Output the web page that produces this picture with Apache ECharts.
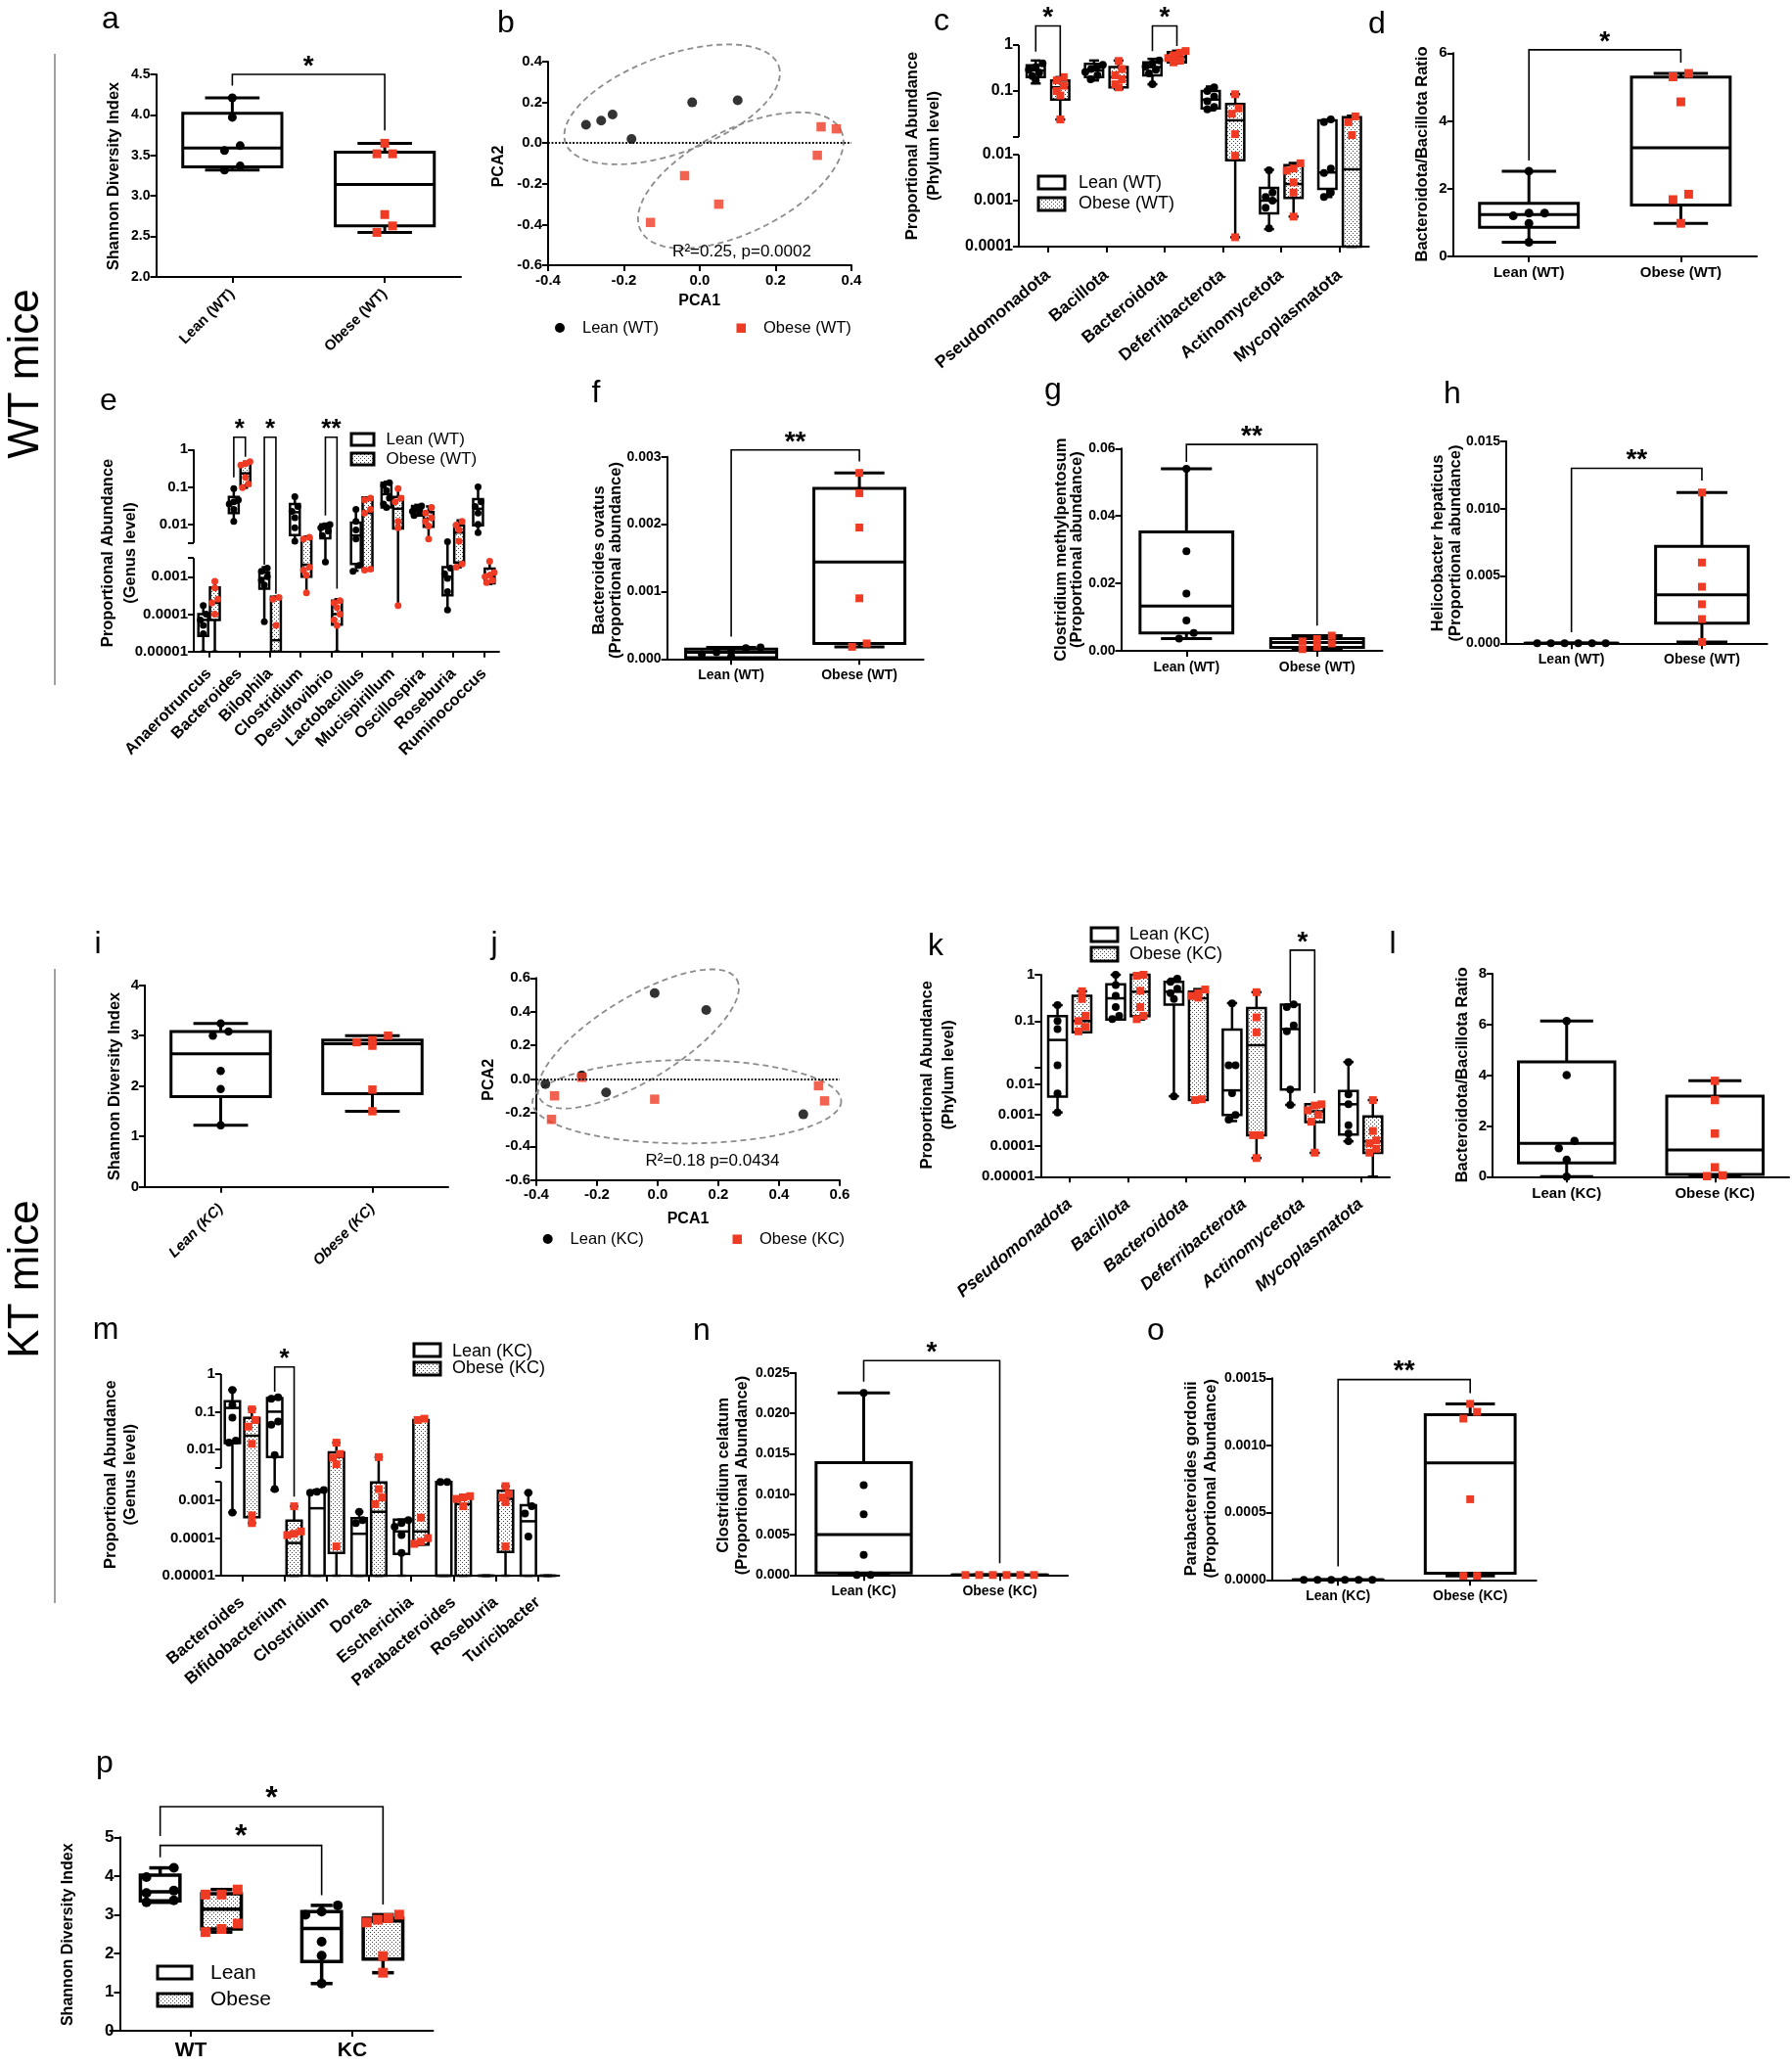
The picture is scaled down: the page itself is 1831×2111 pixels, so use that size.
<!DOCTYPE html>
<html>
<head>
<meta charset="utf-8">
<title>Gut microbiome panels</title>
<script src="https://cdn.jsdelivr.net/npm/echarts@6/dist/echarts.min.js"></script>
<style>
html,body{margin:0;padding:0;background:#fff;}
#chart{width:1831px;height:2111px;}
</style>
</head>
<body>
<div id="chart"></div>
<script>
// ================= DATA =================
const wtGroups = ['Lean (WT)', 'Obese (WT)'];
const kcGroups = ['Lean (KC)', 'Obese (KC)'];
const pGroups = ['WT', 'KC'];
const phylumCats = ['Pseudomonadota', 'Bacillota', 'Bacteroidota', 'Deferribacterota', 'Actinomycetota', 'Mycoplasmatota'];
const eGenusCats = ['Anaerotruncus', 'Bacteroides', 'Bilophila', 'Clostridium', 'Desulfovibrio', 'Lactobacillus', 'Mucispirillum', 'Oscillospira', 'Roseburia', 'Ruminococcus'];
const mGenusCats = ['Bacteroides', 'Bifidobacterium', 'Clostridium', 'Dorea', 'Escherichia', 'Parabacteroides', 'Roseburia', 'Turicibacter'];
const logTickLabels = ['0.00001', '0.0001', '0.001', '0.01', '0.1', '1'];

// box stats are [min, q1, median, q3, max]
// a: Shannon WT
const aLeanPts = [4.21, 3.97, 3.62, 3.56, 3.37, 3.32];
const aObesePts = [3.65, 3.52, 3.52, 2.77, 2.63, 2.55];
const aLeanBox = [3.32, 3.36, 3.59, 4.02, 4.21];
const aObeseBox = [2.55, 2.63, 3.14, 3.54, 3.65];
const aBrackets = [[0, 0, 1, 0, 4.5, 4.36, 3.81, '*']];

// b: PCA WT
const bLean = [[-0.30, 0.09], [-0.26, 0.11], [-0.23, 0.14], [-0.18, 0.02], [-0.02, 0.20], [0.10, 0.21]];
const bObese = [[0.32, 0.08], [0.36, 0.07], [0.31, -0.06], [-0.04, -0.16], [0.05, -0.30], [-0.13, -0.39]];
const bEllipses = [[-0.073, 0.19, 0.208, 0.38, 0.43], [0.108, -0.183, 0.372, 0.063, 0.46]];

// c: phylum WT
const cLeanBox = [[0.146, 0.20, 0.28, 0.36, 0.46], [0.17, 0.20, 0.28, 0.39, 0.46], [0.14, 0.22, 0.33, 0.42, 0.50],
  [0.038, 0.042, 0.065, 0.10, 0.125], [0.00024, 0.00053, 0.001, 0.0019, 0.0047], [0.0012, 0.0018, 0.0041, 0.023, 0.024]];
const cObeseBox = [[0.024, 0.065, 0.12, 0.17, 0.20], [0.11, 0.12, 0.20, 0.33, 0.46], [0.40, 0.42, 0.55, 0.70, 0.75],
  [0.00016, 0.0076, 0.023, 0.052, 0.085], [0.00045, 0.00115, 0.0023, 0.0059, 0.0066], [0, 0, 0.0048, 0.027, 0.029]];
const cLeanPts = [[0.40, 0.33, 0.29, 0.25, 0.21, 0.17], [0.37, 0.33, 0.30, 0.26, 0.22, 0.18], [0.46, 0.40, 0.34, 0.29, 0.24, 0.14],
  [0.12, 0.10, 0.075, 0.06, 0.045, 0.04], [0.0046, 0.0015, 0.0012, 0.001, 0.0007, 0.00025], [0.024, 0.021, 0.005, 0.004, 0.0015, 0.0012]];
const cObesePts = [[0.20, 0.17, 0.13, 0.10, 0.08, 0.024], [0.45, 0.30, 0.22, 0.18, 0.14, 0.12], [0.74, 0.68, 0.60, 0.52, 0.46, 0.42],
  [0.085, 0.042, 0.032, 0.0115, 0.0095, 0.00016], [0.0065, 0.005, 0.0045, 0.0025, 0.0015, 0.00045], [0.028, 0.021, 0.011, 0, 0, 0]];
const cBrackets = [[0, -1, 0, 1, 2.6, 0.72, 0.21, '*'], [2, -1, 2, 1, 2.6, 0.74, 0.95, '*']];

// d: Bacteroidota/Bacillota WT
const dLeanPts = [2.51, 1.27, 1.27, 1.19, 0.97, 0.41];
const dObesePts = [5.4, 5.3, 4.56, 1.83, 1.67, 0.97];
const dLeanBox = [0.41, 0.85, 1.23, 1.56, 2.51];
const dObeseBox = [0.97, 1.51, 3.2, 5.29, 5.4];
const dBrackets = [[0, 0, 1, 0, 6.1, 2.83, 5.72, '*']];

// e: genus WT
const eLeanBox = [[0, 0.000026, 0.00007, 0.0001, 0.00018], [0.0116, 0.02, 0.038, 0.054, 0.095], [0.000063, 0.00048, 0.00092, 0.0013, 0.0018],
  [0.0033, 0.0051, 0.021, 0.035, 0.057], [0.0025, 0.0042, 0.0077, 0.01, 0.0104], [0.00145, 0.0022, 0.005, 0.011, 0.026],
  [0.026, 0.028, 0.064, 0.13, 0.137], [0.017, 0.017, 0.023, 0.031, 0.033], [0.00013, 0.00032, 0.001, 0.0018, 0.0035], [0.006, 0.0094, 0.026, 0.047, 0.105]];
const eObeseBox = [[0, 0.00007, 0.0002, 0.00052, 0.00079], [0.095, 0.11, 0.23, 0.42, 0.47], [0, 0, 0.00002, 0.00029, 0.00029],
  [0.00037, 0.001, 0.0021, 0.0042, 0.0047], [0, 0.000052, 0.0001, 0.00023, 0.00025], [0.0015, 0.0015, 0.02, 0.052, 0.052],
  [0.00017, 0.0077, 0.026, 0.054, 0.095], [0.004, 0.0085, 0.014, 0.021, 0.03], [0.0018, 0.0024, 0.006, 0.0094, 0.0127], [0.00064, 0.00067, 0.001, 0.00165, 0.0027]];
const eLeanPts = [[0.00017, 0.0001, 0.00007, 0.00005, 0.00003, 0], [0.09, 0.045, 0.04, 0.035, 0.025, 0.012], [0.0017, 0.0014, 0.001, 0.0008, 0.0006, 0.000063],
  [0.055, 0.03, 0.022, 0.015, 0.008, 0.0035], [0.0098, 0.009, 0.008, 0.0065, 0.005, 0.0025], [0.025, 0.012, 0.007, 0.004, 0.002, 0.0014],
  [0.13, 0.11, 0.08, 0.05, 0.035, 0.028], [0.031, 0.027, 0.025, 0.022, 0.02, 0.017], [0.0034, 0.0017, 0.0012, 0.0009, 0.0004, 0.00013], [0.1, 0.04, 0.03, 0.02, 0.01, 0.006]];
const eObesePts = [[0.00075, 0.0005, 0.00025, 0.0002, 0.0001, 0], [0.47, 0.42, 0.38, 0.18, 0.12, 0.095], [0.00028, 0.00025, 0.00005, 0, 0, 0],
  [0.0045, 0.004, 0.0018, 0.0015, 0.0011, 0.00037], [0.00023, 0.0002, 0.00015, 0.0001, 0.00007, 0.00005], [0.05, 0.045, 0.025, 0.02, 0.0016, 0.0015],
  [0.09, 0.05, 0.04, 0.012, 0.008, 0.00017], [0.028, 0.02, 0.015, 0.012, 0.009, 0.004], [0.012, 0.0095, 0.007, 0.0035, 0.0022, 0.0018], [0.0026, 0.0013, 0.0011, 0.001, 0.0008, 0.0007]];
const eBrackets = [[1, -1, 1, 1, 2.14, 0.18, 0.64, '*'], [2, -1, 2, 1, 2.14, 0.0021, 0.00035, '*'], [4, -1, 4, 1, 2.14, 0.017, 0.00048, '**']];

// f: Bacteroides ovatus
const fLeanPts = [0.00017, 0.00016, 0.00012, 0.0001, 0.00007, 0.00004];
const fObesePts = [0.00276, 0.00246, 0.00195, 0.0009, 0.00023, 0.00018];
const fLeanBox = [0.00001, 0.00002, 0.0001, 0.000145, 0.00017];
const fObeseBox = [0.00018, 0.00023, 0.00144, 0.00253, 0.00276];
const fBrackets = [[0, 0, 1, 0, 0.0031, 0.00033, 0.00293, '**']];

// g: Clostridium methylpentosum
const gLeanPts = [0.054, 0.0295, 0.017, 0.009, 0.0053, 0.0036];
const gObesePts = [0.0045, 0.0035, 0.0028, 0.0022, 0.0012, 0.0005];
const gLeanBox = [0.0036, 0.0053, 0.0133, 0.0353, 0.054];
const gObeseBox = [0.0005, 0.001, 0.0025, 0.0036, 0.0045];
const gBrackets = [[0, 0, 1, 0, 0.0612, 0.056, 0.0075, '**']];

// h: Helicobacter hepaticus
const hLeanPts = [0, 0, 0, 0, 0, 0];
const hObesePts = [0.0112, 0.006, 0.0042, 0.0029, 0.0018, 0.0001];
const hLeanBox = [0, 0, 0, 0, 0];
const hObeseBox = [0.0001, 0.0015, 0.0036, 0.0072, 0.0112];
const hBrackets = [[0, 0, 1, 0, 0.013, 0.00082, 0.0121, '**']];

// i: Shannon KC
const iLeanPts = [3.24, 3.08, 3.0, 2.3, 1.94, 1.22];
const iObesePts = [3.0, 2.91, 2.87, 2.8, 1.93, 1.5];
const iLeanBox = [1.22, 1.79, 2.64, 3.08, 3.24];
const iObeseBox = [1.5, 1.85, 2.84, 2.91, 3.0];

// j: PCA KC
const jLean = [[-0.37, -0.03], [-0.25, 0.02], [-0.17, -0.08], [-0.01, 0.51], [0.16, 0.41], [0.48, -0.21]];
const jObese = [[-0.34, -0.10], [-0.35, -0.24], [-0.25, 0.01], [-0.01, -0.12], [0.53, -0.04], [0.55, -0.13]];
const jEllipses = [[-0.064, 0.238, 0.26, 0.594, 0.36], [0.096, -0.135, 0.605, -0.131, 0.27]];

// k: phylum KC
const kLeanBox = [[0.0012, 0.0039, 0.039, 0.128, 0.22], [0.108, 0.108, 0.31, 0.62, 1.0], [0.004, 0.225, 0.43, 0.7, 0.82],
  [0.00063, 0.001, 0.0062, 0.065, 0.244], [0.0021, 0.0066, 0.067, 0.225, 0.23], [0.00014, 0.00023, 0.0022, 0.0059, 0.013]];
const kObeseBox = [[0.057, 0.057, 0.1, 0.35, 0.44], [0.108, 0.128, 0.43, 1.0, 1.0], [0.003, 0.003, 0.31, 0.43, 0.49],
  [0.00004, 0.00022, 0.03, 0.19, 0.42], [0.000059, 0.00059, 0.0013, 0.0022, 0.0022], [0, 0.000059, 0.00014, 0.00089, 0.003]];
const kLeanPts = [[0.22, 0.1, 0.067, 0.011, 0.0049, 0.0012], [1.0, 0.6, 0.35, 0.2, 0.13, 0.11], [0.82, 0.7, 0.5, 0.4, 0.3, 0.004],
  [0.24, 0.011, 0.011, 0.005, 0.001, 0.0007], [0.23, 0.2, 0.08, 0.06, 0.0066, 0.0021], [0.013, 0.0046, 0.0022, 0.00046, 0.00025, 0.00014]];
const kObesePts = [[0.44, 0.3, 0.13, 0.1, 0.075, 0.06], [1.0, 0.95, 0.45, 0.2, 0.13, 0.11], [0.48, 0.4, 0.35, 0.32, 0.0032, 0.003],
  [0.42, 0.12, 0.057, 0.00022, 0.00022, 0.00004], [0.0022, 0.002, 0.0014, 0.001, 0.0006, 0.00006], [0.003, 0.0003, 0.00015, 0.00012, 0.00008, 0.00006]];
const kBrackets = [[4, -1, 4, 1, 3.4, 0.26, 0.005, '*']];

// l: Bacteroidota/Bacillota KC
const lLeanPts = [6.14, 4.01, 1.41, 1.12, 0.67, 0];
const lObesePts = [3.78, 3.02, 1.7, 0.37, 0.05, 0.02];
const lLeanBox = [0, 0.54, 1.31, 4.53, 6.14];
const lObeseBox = [0.02, 0.09, 1.05, 3.18, 3.78];

// m: genus KC
const mLeanBox = [[0.00048, 0.0147, 0.126, 0.19, 0.38], [0.0019, 0.0062, 0.1, 0.23, 0.25], [0, 0, 0.00062, 0.0017, 0.0019],
  [0, 0, 0.00013, 0.00034, 0.0005], [0, 0.000038, 0.00015, 0.00031, 0.00031], [0, 0, 0, 0.0031, 0.0031], [0, 0, 0, 0, 0], [0, 0, 0.00028, 0.00075, 0.0016]];
const mObeseBox = [[0.00025, 0.00036, 0.023, 0.069, 0.12], [0, 0, 0.000074, 0.00029, 0.0007], [0, 0.00004, 0.0062, 0.0083, 0.015],
  [0, 0, 0.0005, 0.003, 0.0062], [0.000067, 0.000067, 0.00015, 0.06, 0.065], [0, 0, 0.0008, 0.00125, 0.0014], [0, 0.000043, 0.0011, 0.0018, 0.0024], [0, 0, 0, 0, 0]];
const mLeanPts = [[0.38, 0.15, 0.07, 0.017, 0.015, 0.00048], [0.24, 0.22, 0.055, 0.045, 0.007, 0.002], [0.0019, 0.0017, 0.0016, 0, 0, 0],
  [0.0005, 0.0003, 0.00025, 0, 0, 0], [0.0003, 0.00025, 0.0002, 0.00012, 0.00004, 0], [0.0031, 0.0031, 0, 0, 0, 0], [0, 0, 0, 0, 0, 0], [0.0016, 0.0007, 0.00045, 0.00011, 0, 0]];
const mObesePts = [[0.115, 0.06, 0.04, 0.014, 0.0004, 0.00025], [0.0007, 0.00015, 0.00013, 0.00012, 0, 0], [0.015, 0.0075, 0.006, 0.004, 0.00006, 0],
  [0.0062, 0.002, 0.0012, 0.0008, 0, 0], [0.065, 0.06, 0.00035, 0.0001, 0.00008, 0.00007], [0.0013, 0.0012, 0.0011, 0.0007, 0, 0], [0.0024, 0.0015, 0.0012, 0.0009, 0.00006, 0], [0, 0, 0, 0, 0, 0]];
const mBrackets = [[1, -1, 1, 1, 1.55, 0.34, 0.00126, '*']];

// n: Clostridium celatum
const nLeanPts = [0.0225, 0.0111, 0.0075, 0.0025, 0, 0];
const nObesePts = [0, 0, 0, 0, 0, 0];
const nLeanBox = [0, 0.00024, 0.005, 0.0139, 0.0225];
const nObeseBox = [0, 0, 0, 0, 0];
const nBrackets = [[0, 0, 1, 0, 0.0265, 0.0239, 0.00145, '*']];

// o: Parabacteroides gordonii
const oLeanPts = [0, 0, 0, 0, 0, 0];
const oObesePts = [0.00131, 0.00125, 0.0012, 0.0006, 0.00003, 0.00003];
const oLeanBox = [0, 0, 0, 0, 0];
const oObeseBox = [0.00003, 0.00005, 0.00087, 0.00123, 0.00131];
const oBrackets = [[0, 0, 1, 0, 0.00149, 0.0001, 0.00139, '**']];

// p: Shannon, WT vs KC (same animals as a and i)
const pLeanBox = [aLeanBox, iLeanBox];
const pObeseBox = [aObeseBox, iObeseBox];
const pLeanPts = [aLeanPts, iLeanPts];
const pObesePts = [aObesePts, iObesePts];
const pBrackets = [[0, -1, 1, 1, 5.79, 5.03, 3.26, '*'], [0, -1, 1, -1, 4.79, 4.48, 3.5, '*']];

// ================= STYLE / HELPERS =================
const ARIAL = '"Liberation Sans", Arial, Helvetica, sans-serif';
const RED = '#ef3b24';
const pc = document.createElement('canvas');
pc.width = 4; pc.height = 4;
(function () {
  const g = pc.getContext('2d');
  g.fillStyle = '#fff'; g.fillRect(0, 0, 4, 4);
  g.fillStyle = '#444';
  g.fillRect(0, 0, 1, 1); g.fillRect(2, 2, 1, 1);
})();
const PAT = { image: pc, repeat: 'repeat' };

function makeLog(tmin, tb, tmax, L, G, U) {
  const lowLen = (tb - tmin) * L;
  const max = lowLen + G + (tmax - tb) * U;
  function f(v) {
    if (!(v > 0)) return 0;
    let t = Math.log10(v);
    if (t < tmin) t = tmin;
    return t <= tb + 1e-12 ? (t - tmin) * L : lowLen + G + (t - tb) * U;
  }
  function inv(d) { return d <= lowLen + 1e-9 ? tmin + d / L : tb + (d - lowLen - G) / U; }
  return { tmin, tb, tmax, L, G, U, lowLen, max, f, inv };
}
const Tc = makeLog(-4, -2, 0, 1, 0.385, 1);
const Te = makeLog(-5, -2.5, 0, 1, 0.405, 1);
const Tk = makeLog(-5, -2, 0, 0.668, 0.36, 1);
const Tm = makeLog(-5, -2.5, 0, 1, 0.36, 1);

const pick = (x, i) => Array.isArray(x) ? x[i] : x;
const axLine = { show: true, onZero: false, lineStyle: { color: '#000', width: 2 } };
const axTick = { show: true, length: 6, lineStyle: { color: '#000', width: 2 } };
function fmt(v, dec) { if (Math.abs(v) < 1e-12) v = 0; return v.toFixed(dec); }

function catX(gi, cats, o) {
  o = o || {};
  return {
    gridIndex: gi, type: 'category', data: cats, boundaryGap: true,
    axisLine: axLine, axisTick: Object.assign({ alignWithLabel: true }, axTick), splitLine: { show: false },
    axisLabel: { interval: 0, rotate: o.rotate || 0, margin: o.margin || 8, color: '#000', fontFamily: ARIAL,
      fontWeight: 'bold', fontStyle: o.italic ? 'italic' : 'normal', fontSize: o.fs || 15 }
  };
}
function valX(gi, min, max, interval, dec, fs) {
  return {
    gridIndex: gi, type: 'value', min, max, interval, axisLine: axLine, axisTick: axTick, splitLine: { show: false },
    axisLabel: { margin: 8, color: '#000', fontFamily: ARIAL, fontWeight: 'bold', fontSize: fs || 15, formatter: v => fmt(v, dec) }
  };
}
function linY(gi, min, max, interval, dec, o) {
  o = o || {};
  return {
    gridIndex: gi, type: 'value', min, max, interval, offset: o.offset || 0,
    axisLine: axLine, axisTick: axTick, splitLine: { show: false },
    axisLabel: { margin: 6, color: '#000', fontFamily: ARIAL, fontWeight: 'bold', fontSize: o.fs || 15, formatter: v => fmt(v, dec) }
  };
}
function logY(gi, T, o) {
  const labVals = [];
  for (let t = T.tmin; t <= T.tmax; t++) labVals.push(T.f(Math.pow(10, t)));
  const tickVals = labVals.slice();
  tickVals.push(T.lowLen + T.G);
  if (Math.abs(T.tb - Math.round(T.tb)) > 1e-9) tickVals.push(T.lowLen);
  return {
    gridIndex: gi, type: 'value', min: 0, max: T.max,
    axisLine: { show: !o.broken, onZero: false, lineStyle: { color: '#000', width: 2 } },
    axisTick: { show: true, length: 6, lineStyle: { color: '#000', width: 2 }, customValues: tickVals },
    axisLabel: { customValues: labVals, margin: 6, color: '#000', fontFamily: ARIAL, fontWeight: 'bold', fontSize: o.fs || 15,
      formatter: d => logTickLabels[Math.round(T.inv(d)) + 5] },
    splitLine: { show: false }
  };
}

function boxSeries(gi, boxes, pts, o) {
  const tr = o.tr || (v => v);
  return {
    type: 'custom', xAxisIndex: gi, yAxisIndex: gi, clip: false, z: 3, silent: true,
    data: boxes.map((b, i) => [i, tr(b[2])]),
    renderItem: function (params, api) {
      const i = params.dataIndex, b = boxes[i], P = pts[i];
      const band = api.size([1, 0])[0];
      const cx = api.coord([i, 0])[0] + (o.offset || 0) * band;
      const Y = v => api.coord([i, tr(v)])[1];
      const w = o.width * band, cw = w * 0.55, lw = o.lw || 3;
      const ls = { stroke: '#000', lineWidth: lw, fill: 'none' };
      const yMin = Y(b[0]), yQ1 = Y(b[1]), yMed = Y(b[2]), yQ3 = Y(b[3]), yMax = Y(b[4]);
      const ch = [
        { type: 'line', shape: { x1: cx, y1: yMax, x2: cx, y2: yQ3 }, style: ls },
        { type: 'line', shape: { x1: cx, y1: yQ1, x2: cx, y2: yMin }, style: ls },
        { type: 'line', shape: { x1: cx - cw / 2, y1: yMax, x2: cx + cw / 2, y2: yMax }, style: ls },
        { type: 'line', shape: { x1: cx - cw / 2, y1: yMin, x2: cx + cw / 2, y2: yMin }, style: ls },
        { type: 'rect', shape: { x: cx - w / 2, y: yQ3, width: w, height: Math.max(yQ1 - yQ3, 0.01) },
          style: { fill: pick(o.fill, i) || '#fff', stroke: '#000', lineWidth: lw } },
        { type: 'line', shape: { x1: cx - w / 2, y1: yMed, x2: cx + w / 2, y2: yMed }, style: ls }
      ];
      const s = o.size || 8, color = pick(o.color, i), shape = pick(o.shape, i);
      const py = [];
      P.forEach(v => { if (o.log && !(v > 0)) return; py.push(Y(v)); });
      py.sort((p, q) => p - q);
      const rows = []; let cur = null;
      py.forEach(y => { if (!cur || y - cur[0] > s * 0.95) { cur = [y]; rows.push(cur); } else cur.push(y); });
      const step = o.step || s * 1.8;
      const maxSpread = o.maxSpread != null ? o.maxSpread * band : Infinity;
      rows.forEach(r => {
        const n = r.length;
        const d = n > 1 ? Math.min(step, maxSpread / (n - 1)) : 0;
        r.forEach((y, k) => {
          const x = cx + ((n - 1) / 2 - k) * d;
          ch.push(shape === 'rect'
            ? { type: 'rect', shape: { x: x - s / 2, y: y - s / 2, width: s, height: s }, style: { fill: color } }
            : { type: 'circle', shape: { cx: x, cy: y, r: s / 2 }, style: { fill: color } });
        });
      });
      return { type: 'group', children: ch };
    }
  };
}

function bracketSeries(gi, list, o) {
  o = o || {};
  const tr = o.tr || (v => v), off = o.off || 0;
  return {
    type: 'custom', xAxisIndex: gi, yAxisIndex: gi, clip: false, silent: true, z: 6,
    data: list.map(k => [k[0], tr(k[4])]),
    renderItem: function (params, api) {
      const k = list[params.dataIndex];
      const band = api.size([1, 0])[0];
      const x1 = api.coord([k[0], 0])[0] + k[1] * off * band;
      const x2 = api.coord([k[2], 0])[0] + k[3] * off * band;
      const Y = v => api.coord([k[0], tr(v)])[1];
      const yt = Y(k[4]);
      return {
        type: 'group', children: [
          { type: 'polyline', shape: { points: [[x1, Y(k[5])], [x1, yt], [x2, yt], [x2, Y(k[6])]] },
            style: { stroke: '#000', lineWidth: o.lw || 1.6, fill: 'none' } },
          { type: 'text', style: { text: k[7], x: (x1 + x2) / 2, y: yt - (o.gap || 8), fill: '#000', fontSize: o.fs || 28,
            fontWeight: 'bold', fontFamily: ARIAL, textAlign: 'center', textVerticalAlign: 'middle', align: 'center', verticalAlign: 'middle' } }
        ]
      };
    }
  };
}

function axisBreakSeries(gi, T) {
  return {
    type: 'custom', xAxisIndex: gi, yAxisIndex: gi, clip: false, silent: true, z: 5, data: [[0, 0]],
    renderItem: function (params, api) {
      const x = params.coordSys.x;
      const y = d => api.coord([0, d])[1];
      const ls = { stroke: '#000', lineWidth: 2, fill: 'none' };
      return {
        type: 'group', children: [
          { type: 'line', shape: { x1: x, y1: y(0) + 1, x2: x, y2: y(T.lowLen) }, style: ls },
          { type: 'line', shape: { x1: x, y1: y(T.lowLen + T.G), x2: x, y2: y(T.max) }, style: ls }
        ]
      };
    }
  };
}

function ellipseSeries(gi, list) {
  return {
    type: 'custom', xAxisIndex: gi, yAxisIndex: gi, clip: false, silent: true, z: 2,
    data: list.map(e => [e[0], e[1]]),
    renderItem: function (params, api) {
      const e = list[params.dataIndex];
      const c = api.coord([e[0], e[1]]), m = api.coord([e[2], e[3]]);
      const ax = m[0] - c[0], ay = m[1] - c[1];
      const bx = -ay * e[4], by = ax * e[4];
      const pts = [];
      for (let k = 0; k < 90; k++) {
        const th = k / 90 * 2 * Math.PI;
        pts.push([c[0] + ax * Math.cos(th) + bx * Math.sin(th), c[1] + ay * Math.cos(th) + by * Math.sin(th)]);
      }
      return { type: 'polygon', shape: { points: pts }, style: { fill: 'none', stroke: '#8c8c8c', lineWidth: 1.8, lineDash: [6, 4] } };
    }
  };
}

function scatterSeries(gi, data, symbol, color, zeroLine) {
  const s = { type: 'scatter', xAxisIndex: gi, yAxisIndex: gi, data, symbol, symbolSize: symbol === 'circle' ? 10 : 9.5,
    itemStyle: { color }, z: 4, silent: true };
  if (zeroLine) s.markLine = { silent: true, symbol: 'none', label: { show: false },
    lineStyle: { type: 'dotted', color: '#000', width: 1.8 }, data: [{ yAxis: 0 }] };
  return s;
}

function txt(text, x, y, o) {
  o = o || {};
  const st = { text, x: 0, y: 0, fill: '#000', fontSize: o.fs || 16, fontFamily: ARIAL, fontWeight: o.fw || 'normal',
    fontStyle: o.fst || 'normal', textAlign: o.align || 'center', textVerticalAlign: o.va || 'middle',
    align: o.align || 'center', verticalAlign: o.va || 'middle' };
  if (o.lh) st.lineHeight = o.lh;
  return { type: 'text', x, y, rotation: o.rot || 0, z: 50, silent: true, style: st };
}
function legRect(x, y, w, h, fill) {
  return { type: 'rect', shape: { x, y, width: w, height: h }, style: { fill, stroke: '#000', lineWidth: 3 }, z: 50, silent: true };
}
const R90 = Math.PI / 2;

// ================= LAYOUT =================
const grids = [
  { left: 159.5, top: 76, width: 311.5, height: 207 },     // a 0
  { left: 560, top: 63, width: 310, height: 208 },         // b 1
  { left: 1041, top: 46, width: 357.6, height: 206 },      // c 2
  { left: 1484.6, top: 54.3, width: 310.4, height: 207.4 },// d 3
  { left: 198, top: 459.3, width: 312, height: 206.4 },    // e 4
  { left: 681.6, top: 466.7, width: 262, height: 206.6 },  // f 5
  { left: 1145.5, top: 458.3, width: 267, height: 206.7 }, // g 6
  { left: 1539, top: 451, width: 266.6, height: 206.3 },   // h 7
  { left: 148, top: 1006.7, width: 310, height: 206 },     // i 8
  { left: 548, top: 999.3, width: 310, height: 206.4 },    // j 9
  { left: 1063.3, top: 996, width: 356.7, height: 206.3 }, // k 10
  { left: 1525, top: 995, width: 303, height: 207.3 },     // l 11
  { left: 225.8, top: 1404, width: 345.6, height: 206 },   // m 12
  { left: 813, top: 1402.7, width: 278, height: 206.6 },   // n 13
  { left: 1299.7, top: 1408.3, width: 270, height: 206 },  // o 14
  { left: 112.5, top: 1877.3, width: 330, height: 197.7 }  // p 15
].map(g => Object.assign({ outerBoundsMode: 'none', containLabel: false }, g));

const xAxes = [
  catX(0, wtGroups, { rotate: 45, fs: 15, margin: 15 }),
  valX(1, -0.4, 0.4, 0.2, 1, 15),
  catX(2, phylumCats, { rotate: 40, fs: 17.5, margin: 27 }),
  catX(3, wtGroups, { fs: 15, margin: 10 }),
  catX(4, eGenusCats, { rotate: 45, fs: 16.5, margin: 20 }),
  catX(5, wtGroups, { fs: 14, margin: 10 }),
  catX(6, wtGroups, { fs: 14, margin: 10 }),
  catX(7, wtGroups, { fs: 14, margin: 10 }),
  catX(8, kcGroups, { rotate: 45, fs: 15, italic: true, margin: 20 }),
  valX(9, -0.4, 0.6, 0.2, 1, 15),
  catX(10, phylumCats, { rotate: 40, fs: 17.5, italic: true, margin: 26 }),
  catX(11, kcGroups, { fs: 15, margin: 10 }),
  catX(12, mGenusCats, { rotate: 40, fs: 17, margin: 25 }),
  catX(13, kcGroups, { fs: 14, margin: 10 }),
  catX(14, kcGroups, { fs: 14, margin: 10 }),
  catX(15, pGroups, { fs: 21, margin: 10 })
];
const yAxes = [
  linY(0, 2, 4.5, 0.5, 1, { fs: 14 }),
  linY(1, -0.6, 0.4, 0.2, 1, { fs: 15 }),
  logY(2, Tc, { broken: true, fs: 16 }),
  linY(3, 0, 6, 2, 0, { fs: 15 }),
  logY(4, Te, { broken: true, fs: 15 }),
  linY(5, 0, 0.003, 0.001, 3, { fs: 14 }),
  linY(6, 0, 0.06, 0.02, 2, { fs: 14 }),
  linY(7, 0, 0.015, 0.005, 3, { fs: 14 }),
  linY(8, 0, 4, 1, 0, { fs: 15 }),
  linY(9, -0.6, 0.6, 0.2, 1, { fs: 15 }),
  logY(10, Tk, { broken: false, fs: 15 }),
  linY(11, 0, 8, 2, 0, { fs: 15 }),
  logY(12, Tm, { broken: true, fs: 15 }),
  linY(13, 0, 0.025, 0.005, 3, { fs: 14 }),
  linY(14, 0, 0.0015, 0.0005, 4, { fs: 14 }),
  linY(15, 0, 5, 1, 0, { fs: 17, offset: -10 })
];

const single = (gi, LB, OB, LP, OP, w, extra) => boxSeries(gi, [LB, OB], [LP, OP],
  Object.assign({ width: w, color: ['#000', RED], shape: ['circle', 'rect'], size: 9, step: 16, lw: 3 }, extra || {}));

const series = [
  // a
  single(0, aLeanBox, aObeseBox, aLeanPts, aObesePts, 0.65),
  bracketSeries(0, aBrackets),
  // b
  ellipseSeries(1, bEllipses),
  scatterSeries(1, bLean, 'circle', '#000', true),
  scatterSeries(1, bObese, 'rect', RED, false),
  // c
  boxSeries(2, cLeanBox, cLeanPts, { offset: -0.21, width: 0.31, color: '#000', shape: 'circle', size: 8, step: 7, maxSpread: 0.3, lw: 2.5, log: true, tr: Tc.f }),
  boxSeries(2, cObeseBox, cObesePts, { offset: 0.21, width: 0.31, color: RED, shape: 'rect', fill: PAT, size: 8, step: 7, maxSpread: 0.3, lw: 2.5, log: true, tr: Tc.f }),
  bracketSeries(2, cBrackets, { off: 0.21, tr: Tc.f }),
  axisBreakSeries(2, Tc),
  // d
  single(3, dLeanBox, dObeseBox, dLeanPts, dObesePts, 0.65),
  bracketSeries(3, dBrackets),
  // e
  boxSeries(4, eLeanBox, eLeanPts, { offset: -0.19, width: 0.32, color: '#000', shape: 'circle', size: 7, step: 6, maxSpread: 0.3, lw: 2.5, log: true, tr: Te.f }),
  boxSeries(4, eObeseBox, eObesePts, { offset: 0.19, width: 0.32, color: RED, shape: 'circle', fill: PAT, size: 7, step: 6, maxSpread: 0.3, lw: 2.5, log: true, tr: Te.f }),
  bracketSeries(4, eBrackets, { off: 0.19, tr: Te.f, fs: 26 }),
  axisBreakSeries(4, Te),
  // f g h
  single(5, fLeanBox, fObeseBox, fLeanPts, fObesePts, 0.71, { size: 8, step: 15 }),
  bracketSeries(5, fBrackets),
  single(6, gLeanBox, gObeseBox, gLeanPts, gObesePts, 0.71, { size: 8, step: 15 }),
  bracketSeries(6, gBrackets),
  single(7, hLeanBox, hObeseBox, hLeanPts, hObesePts, 0.71, { size: 8, step: 14 }),
  bracketSeries(7, hBrackets),
  // i
  single(8, iLeanBox, iObeseBox, iLeanPts, iObesePts, 0.655, { size: 8.5 }),
  // j
  ellipseSeries(9, jEllipses),
  scatterSeries(9, jLean, 'circle', '#000', true),
  scatterSeries(9, jObese, 'rect', RED, false),
  // k
  boxSeries(10, kLeanBox, kLeanPts, { offset: -0.21, width: 0.32, color: '#000', shape: 'circle', size: 8, step: 7, maxSpread: 0.3, lw: 2.5, log: true, tr: Tk.f }),
  boxSeries(10, kObeseBox, kObesePts, { offset: 0.21, width: 0.32, color: RED, shape: 'rect', fill: PAT, size: 8, step: 7, maxSpread: 0.3, lw: 2.5, log: true, tr: Tk.f }),
  bracketSeries(10, kBrackets, { off: 0.21, tr: Tk.f }),
  // l
  single(11, lLeanBox, lObeseBox, lLeanPts, lObesePts, 0.65, { size: 8.5 }),
  // m
  boxSeries(12, mLeanBox, mLeanPts, { offset: -0.23, width: 0.36, color: '#000', shape: 'circle', size: 8, step: 7, maxSpread: 0.34, lw: 2.5, log: true, tr: Tm.f }),
  boxSeries(12, mObeseBox, mObesePts, { offset: 0.23, width: 0.36, color: RED, shape: 'rect', fill: PAT, size: 8, step: 7, maxSpread: 0.34, lw: 2.5, log: true, tr: Tm.f }),
  bracketSeries(12, mBrackets, { off: 0.23, tr: Tm.f, fs: 26 }),
  axisBreakSeries(12, Tm),
  // n o
  single(13, nLeanBox, nObeseBox, nLeanPts, nObesePts, 0.7, { size: 8, step: 14 }),
  bracketSeries(13, nBrackets),
  single(14, oLeanBox, oObeseBox, oLeanPts, oObesePts, 0.68, { size: 8, step: 14 }),
  bracketSeries(14, oBrackets),
  // p
  boxSeries(15, pLeanBox, pLeanPts, { offset: -0.19, width: 0.245, color: '#000', shape: 'circle', size: 10, step: 28, maxSpread: 0.2, lw: 3.5 }),
  boxSeries(15, pObeseBox, pObesePts, { offset: 0.19, width: 0.245, color: RED, shape: 'rect', fill: PAT, size: 10, step: 28, maxSpread: 0.2, lw: 3.5 }),
  bracketSeries(15, pBrackets, { off: 0.19, fs: 32 })
];

// ================= TEXT / DECORATION =================
const T16 = { fs: 16.5, fw: 'bold', rot: R90 };
const elems = [
  { type: 'line', shape: { x1: 56, y1: 55, x2: 56, y2: 700 }, style: { stroke: '#a0a0a0', lineWidth: 2 }, silent: true },
  { type: 'line', shape: { x1: 56, y1: 990, x2: 56, y2: 1638 }, style: { stroke: '#a0a0a0', lineWidth: 2 }, silent: true },
  txt('WT mice', 27, 382, { fs: 44, rot: R90 }),
  txt('KT mice', 27, 1307, { fs: 44, rot: R90 }),
  // panel letters
  txt('a', 113, 20, { fs: 32 }), txt('b', 517, 24, { fs: 32 }), txt('c', 962, 22, { fs: 32 }), txt('d', 1407, 25, { fs: 32 }),
  txt('e', 111, 410, { fs: 32 }), txt('f', 609, 402, { fs: 32 }), txt('g', 1076, 399, { fs: 32 }), txt('h', 1484, 403, { fs: 32 }),
  txt('i', 100, 965, { fs: 32 }), txt('j', 505, 965, { fs: 32 }), txt('k', 956, 967, { fs: 32 }), txt('l', 1423, 965, { fs: 32 }),
  txt('m', 108, 1359, { fs: 32 }), txt('n', 717, 1360, { fs: 32 }), txt('o', 1181, 1360, { fs: 32 }), txt('p', 107, 1802, { fs: 32 }),
  // axis titles
  txt('Shannon Diversity Index', 116, 180, T16),
  txt('PCA2', 509.6, 170, { fs: 16, fw: 'bold', rot: R90 }),
  txt('PCA1', 714.7, 308, { fs: 16, fw: 'bold' }),
  txt('Proportional Abundance\n(Phylum level)', 943, 149, Object.assign({ lh: 22 }, T16)),
  txt('Bacteroidota/Bacillota Ratio', 1453, 157.5, T16),
  txt('Proportional Abundance\n(Genus level)', 122.4, 565, Object.assign({ lh: 23 }, T16)),
  txt('Bacteroides ovatus\n(Proportional abundance)', 621, 572.5, Object.assign({ lh: 17 }, T16)),
  txt('Clostridium methylpentosum\n(Proportional abundance)', 1092.5, 561.7, Object.assign({ lh: 16 }, T16)),
  txt('Helicobacter hepaticus\n(Proportional abundance)', 1478.6, 555, Object.assign({ lh: 18 }, T16)),
  txt('Shannon Diversity Index', 117.7, 1110, T16),
  txt('PCA2', 499.4, 1103.3, { fs: 16, fw: 'bold', rot: R90 }),
  txt('PCA1', 703, 1246, { fs: 16, fw: 'bold' }),
  txt('Proportional Abundance\n(Phylum level)', 958.7, 1098.3, Object.assign({ lh: 22 }, T16)),
  txt('Bacteroidota/Bacillota Ratio', 1494, 1098.3, T16),
  txt('Proportional Abundance\n(Genus level)', 123.3, 1506.7, Object.assign({ lh: 20.6 }, T16)),
  txt('Clostridium celatum\n(Proportional Abundance)', 748.9, 1507.5, Object.assign({ lh: 18.4 }, T16)),
  txt('Parabacteroides gordonii\n(Proportional Abundance)', 1227.4, 1510.8, Object.assign({ lh: 20.7 }, T16)),
  txt('Shannon Diversity Index', 70, 1976.7, { fs: 16, fw: 'bold', rot: R90 }),
  // stats notes
  txt('R²=0.25, p=0.0002', 758, 257, { fs: 17 }),
  txt('R²=0.18 p=0.0434', 728, 1186.7, { fs: 17 }),
  // legends: b, j
  { type: 'circle', shape: { cx: 572, cy: 335, r: 5 }, style: { fill: '#000' }, z: 50, silent: true },
  txt(wtGroups[0], 595, 335, { fs: 16.5, align: 'left' }),
  { type: 'rect', shape: { x: 752.5, y: 330.5, width: 9.5, height: 9.5 }, style: { fill: RED }, z: 50, silent: true },
  txt(wtGroups[1], 780, 335, { fs: 16.5, align: 'left' }),
  { type: 'circle', shape: { cx: 559.7, cy: 1266, r: 5 }, style: { fill: '#000' }, z: 50, silent: true },
  txt(kcGroups[0], 582.6, 1266, { fs: 16.5, align: 'left' }),
  { type: 'rect', shape: { x: 748.5, y: 1261.5, width: 9.5, height: 9.5 }, style: { fill: RED }, z: 50, silent: true },
  txt(kcGroups[1], 776, 1266, { fs: 16.5, align: 'left' }),
  // legends: box panels
  legRect(1061, 180, 27, 13, '#fff'), txt(wtGroups[0], 1102, 187, { fs: 18, align: 'left' }),
  legRect(1061, 202, 27, 13, PAT), txt(wtGroups[1], 1102, 208, { fs: 18, align: 'left' }),
  legRect(359, 443, 23, 12, '#fff'), txt(wtGroups[0], 394.5, 449.3, { fs: 17, align: 'left' }),
  legRect(359, 463, 23, 12, PAT), txt(wtGroups[1], 394.5, 469.3, { fs: 17, align: 'left' }),
  legRect(1115, 948, 27, 14, '#fff'), txt(kcGroups[0], 1154, 955, { fs: 18, align: 'left' }),
  legRect(1115, 968, 27, 14, PAT), txt(kcGroups[1], 1154, 975, { fs: 18, align: 'left' }),
  legRect(423, 1373, 27, 13, '#fff'), txt(kcGroups[0], 462, 1380.7, { fs: 18, align: 'left' }),
  legRect(423, 1392, 27, 13, PAT), txt(kcGroups[1], 462, 1398.3, { fs: 18, align: 'left' }),
  legRect(161, 2009, 35, 13, '#fff'), txt('Lean', 215, 2016, { fs: 21, align: 'left' }),
  legRect(161, 2037, 35, 13, PAT), txt('Obese', 215, 2043.3, { fs: 21, align: 'left' })
];

const chart = echarts.init(document.getElementById('chart'), null, { renderer: 'canvas', width: 1831, height: 2111 });
chart.setOption({
  backgroundColor: '#fff',
  animation: false,
  grid: grids,
  xAxis: xAxes,
  yAxis: yAxes,
  series: series,
  graphic: { elements: elems }
});
</script>
</body>
</html>
